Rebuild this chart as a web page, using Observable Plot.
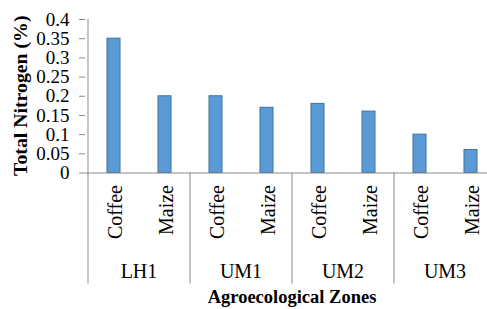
<!DOCTYPE html>
<html>
<head>
<meta charset="utf-8">
<script src="https://cdn.jsdelivr.net/npm/d3@7"></script>
<script src="https://cdn.jsdelivr.net/npm/@observablehq/plot@0.6"></script>
<style>
  html, body { margin: 0; padding: 0; background: #fff; }
  #chart svg { display: block; overflow: visible; }
  #chart svg text { font-family: "Liberation Serif", Tinos, "DejaVu Serif", serif !important; }
</style>
</head>
<body>
<div id="chart"></div>
<script>
const zones = ["LH1", "UM1", "UM2", "UM3"];
const crops = ["Coffee", "Maize"];
const coffeeValues = [0.35, 0.20, 0.18, 0.10];
const maizeValues = [0.20, 0.17, 0.16, 0.06];
const yTicks = [0, 0.05, 0.1, 0.15, 0.2, 0.25, 0.3, 0.35, 0.4];
const yTickLabels = ["0", "0.05", "0.1", "0.15", "0.2", "0.25", "0.3", "0.35", "0.4"];
const xTitle = "Agroecological Zones";
const yTitle = "Total Nitrogen (%)";

const data = zones.flatMap((z, i) => [
  {zone: z, crop: crops[0], key: z + "|" + crops[0], value: coffeeValues[i]},
  {zone: z, crop: crops[1], key: z + "|" + crops[1], value: maizeValues[i]}
]);
const keys = data.map(d => d.key);

const AXIS = "#898989";
const FONT = "Liberation Serif, Tinos, DejaVu Serif, serif";

function decor(index, scales, values, dimensions) {
  const x = scales.x, y = scales.y;
  const bw = x.bandwidth();
  const step = x(keys[1]) - x(keys[0]);
  const gap = step - bw;
  const y0 = y(0);
  const yTop = y(yTicks[yTicks.length - 1]);
  const bottom = y0 + 111;
  const g = d3.create("svg:g");
  const left = x(keys[0]) - gap / 2;
  g.append("line").attr("x1", left).attr("x2", left).attr("y1", yTop).attr("y2", bottom)
    .attr("stroke", AXIS).attr("stroke-width", 1);
  zones.forEach((z, i) => {
    const a = x(z + "|" + crops[0]);
    const b = x(z + "|" + crops[1]) + bw;
    const start = a - gap / 2, end = b + gap / 2;
    if (i > 0) {
      g.append("line").attr("x1", start).attr("x2", start).attr("y1", y0).attr("y2", bottom)
        .attr("stroke", AXIS).attr("stroke-width", 1);
    }
    g.append("text").attr("x", (start + end) / 2).attr("y", y0 + 105)
      .attr("text-anchor", "middle").attr("font-size", 20)
      .attr("fill", "#000").text(z);
  });
  const right = x(keys[keys.length - 1]) + bw + gap / 2;
  g.append("text").attr("x", (left + right) / 2).attr("y", y0 + 130)
    .attr("text-anchor", "middle").attr("font-size", 18.5)
    .attr("font-weight", "bold").attr("fill", "#000").text(xTitle);
  g.append("text").attr("transform", `translate(27,${(y0 + yTop) / 2}) rotate(-90)`)
    .attr("text-anchor", "middle").attr("font-size", 19.8)
    .attr("font-weight", "bold").attr("fill", "#000").text(yTitle);
  return g.node();
}

const chart = Plot.plot({
  width: 487,
  height: 309,
  marginLeft: 85,
  marginRight: 0,
  marginTop: 18,
  marginBottom: 137,
  style: {fontFamily: FONT, background: "#fff"},
  x: {domain: keys, range: [85, 498], paddingInner: 0.75, paddingOuter: 0.375, axis: null},
  y: {domain: [0, 0.4], range: [172.5, 19], axis: null},
  marks: [
    Plot.barY(data, {x: "key", y: "value", fill: "#5b9bd5", stroke: "#41719c", strokeWidth: 1}),
    Plot.ruleY([0], {stroke: AXIS, strokeWidth: 1}),
    Plot.axisY({ticks: yTicks, tickFormat: d => yTickLabels[yTicks.indexOf(d)], tickSize: 6,
      tickPadding: 10, fontSize: 19, stroke: AXIS, fill: "#000", label: null}),
    Plot.text(data, {x: "key", y: () => 0, text: "crop", rotate: -90, textAnchor: "end",
      lineAnchor: "middle", dx: 2, dy: 12, fontSize: 20, fill: "#000"}),
    decor
  ]
});
document.getElementById("chart").appendChild(chart);
</script>
</body>
</html>
